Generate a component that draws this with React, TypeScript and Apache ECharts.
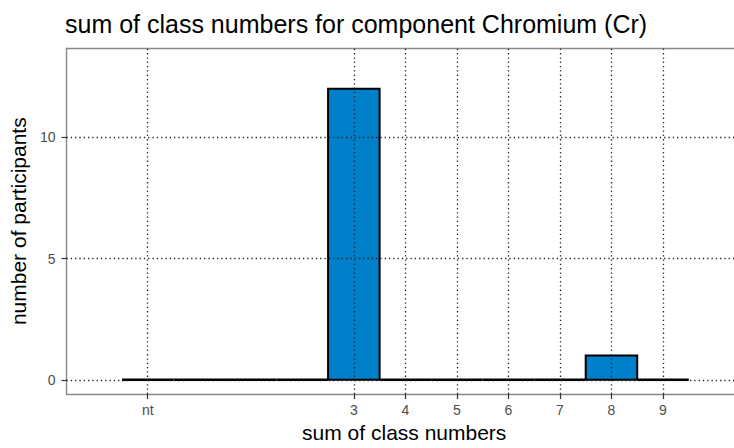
import React, { useEffect, useRef } from "react";
import * as echarts from "echarts";

const xValues = [-1, 0, 1, 2, 3, 4, 5, 6, 7, 8, 9];
const counts = [0, 0, 0, 0, 12, 0, 0, 0, 0, 1, 0];
const xTickValues = [-1, 3, 4, 5, 6, 7, 8, 9];
const xTickLabels = ["nt", "3", "4", "5", "6", "7", "8", "9"];
const yTickValues = [0, 5, 10];

const X_MIN = -2.577;
const X_MAX = 10.378;
const Y_MIN = -0.59;
const Y_MAX = 13.67;

export default function App() {
  const ref = useRef<HTMLDivElement>(null);
  useEffect(() => {
    if (!ref.current) return;
    const chart = echarts.init(ref.current, null, { renderer: "svg" });
    const data = xValues.map((x, i) => [x, counts[i]]);
    const gridStyle = { color: "#222", width: 1.3, type: [1.3, 3] as any };
    const font = "Liberation Sans";
    const option: any = {
      animation: false,
      title: {
        text: "sum of class numbers for component Chromium (Cr)",
        left: 60,
        top: 6,
        textStyle: { fontFamily: font, fontSize: 25, fontWeight: "normal", color: "#000" },
      },
      grid: {
        left: 65.5,
        right: 0,
        top: 48.3,
        bottom: 448 - 394.3,
        show: false,
      },
      xAxis: [
        {
          type: "value",
          min: X_MIN,
          max: X_MAX,
          position: "bottom",
          name: "sum of class numbers",
          nameLocation: "middle",
          nameGap: 27,
          nameTextStyle: { fontFamily: font, fontSize: 21, color: "#000", padding: [0, 0, 0, 8] },
          axisLine: { show: true, onZero: false, lineStyle: { color: "#888", width: 1.4 } },
          axisTick: { show: true, length: 5, customValues: xTickValues, lineStyle: { color: "#333", width: 1.2 } },
          axisLabel: {
            customValues: xTickValues,
            margin: 9,
            fontFamily: font,
            fontSize: 14,
            color: "#4d4d4d",
            formatter: (v: number) => {
              const i = xTickValues.indexOf(v);
              return i >= 0 ? xTickLabels[i] : "";
            },
          },
          splitLine: { show: false },
        },
        {
          type: "value",
          min: X_MIN,
          max: X_MAX,
          position: "top",
          axisLine: { show: true, onZero: false, lineStyle: { color: "#888", width: 1.4 } },
          axisTick: { show: false },
          axisLabel: { show: false },
          splitLine: { show: false },
        },
      ],
      yAxis: {
        type: "value",
        min: Y_MIN,
        max: Y_MAX,
        name: "number of participants",
        nameLocation: "middle",
        nameGap: 37,
        nameTextStyle: { fontFamily: font, fontSize: 21, color: "#000" },
        axisLine: { show: true, onZero: false, lineStyle: { color: "#888", width: 1.4 } },
        axisTick: { show: true, length: 5, customValues: yTickValues, lineStyle: { color: "#333", width: 1.2 } },
        axisLabel: {
          customValues: yTickValues,
          margin: 11,
          fontFamily: font,
          fontSize: 14,
          color: "#4d4d4d",
        },
        splitLine: { show: false },
      },
      series: [
        {
          type: "line",
          data: [],
          z: 1,
          silent: true,
          markLine: {
            symbol: "none",
            silent: true,
            label: { show: false },
            lineStyle: gridStyle,
            data: [
              ...xTickValues.map((v) => ({ xAxis: v })),
              ...yTickValues.map((v) => ({ yAxis: v })),
            ],
          },
        },
        {
          type: "custom",
          z: 3,
          data,
          renderItem: (params: any, api: any) => {
            const x = api.value(0);
            const c = api.value(1);
            const p0 = api.coord([x - 0.5, 0]);
            const p1 = api.coord([x + 0.5, c]);
            if (c === 0) {
              return {
                type: "line",
                shape: { x1: p0[0], y1: p0[1], x2: p1[0], y2: p0[1] },
                style: { stroke: "#000", lineWidth: 2.6 },
              };
            }
            return {
              type: "rect",
              shape: { x: p0[0], y: p1[1], width: p1[0] - p0[0], height: p0[1] - p1[1] },
              style: { fill: "#007FCB", stroke: "#000", lineWidth: 2 },
            };
          },
        },
      ],
    };
    chart.setOption(option);
    return () => chart.dispose();
  }, []);
  return (
    <div
      ref={ref}
      style={{ position: "fixed", left: 0, top: 0, width: 734, height: 448, background: "#fff" }}
    />
  );
}
